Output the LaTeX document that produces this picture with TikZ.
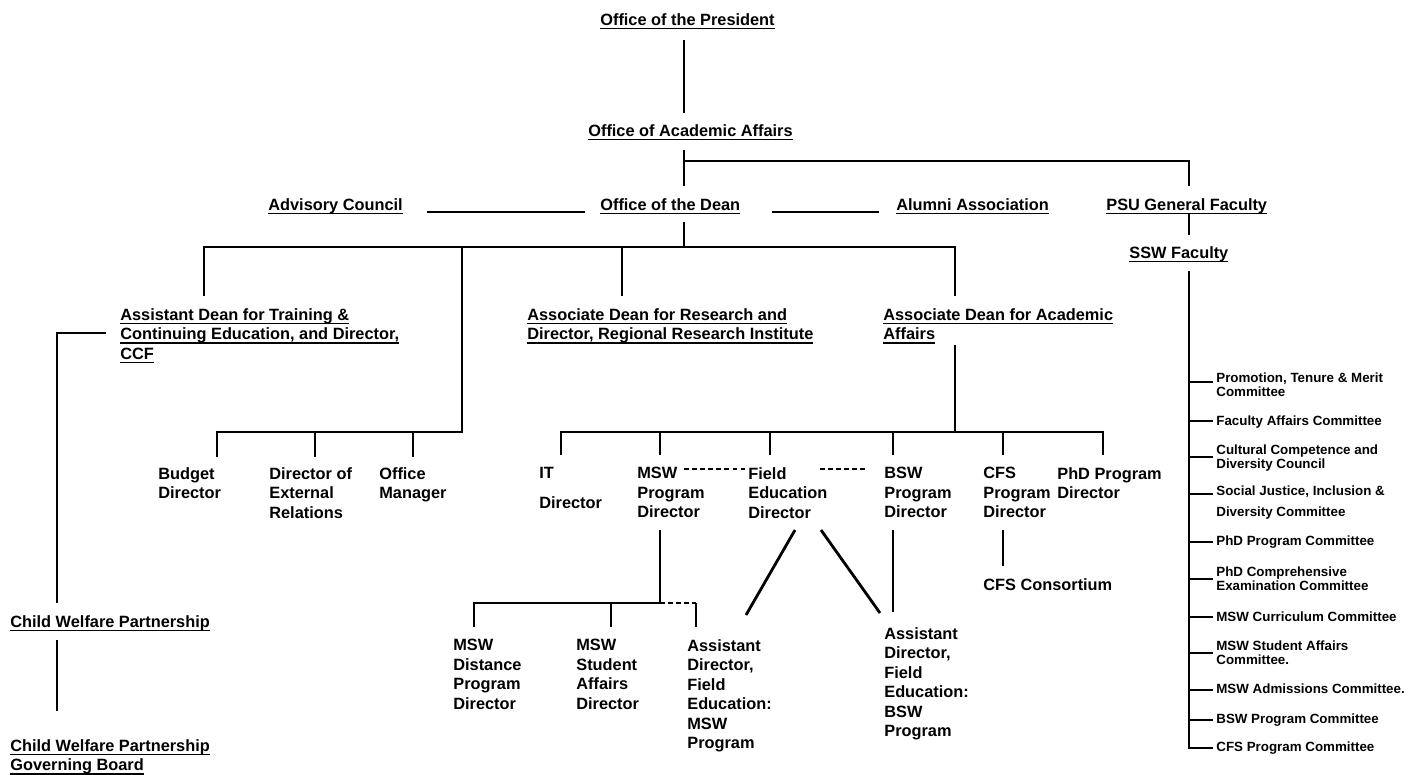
\documentclass[tikz,border=0pt]{standalone}
\usepackage{fontspec}
\setmainfont{Liberation Sans}
\usetikzlibrary{positioning,calc}

\newsavebox\ulbox
\newcommand\uln[1]{\sbox\ulbox{#1}\rlap{\usebox\ulbox}\rule[-2.4pt]{\wd\ulbox}{1pt}}
\newcommand\orgfont{\fontsize{9.3}{11.1}\selectfont\bfseries}
\newcommand\cmtfont{\fontsize{7.6}{8.5}\selectfont\bfseries}

\tikzset{
  unit/.style={font=\orgfont, anchor=north west, inner sep=0pt, align=left},
  cmt/.style={font=\cmtfont, anchor=north west, inner sep=0pt, align=left},
  conn/.style={line width=1.2pt},
  heavy/.style={line width=1.6pt},
  link/.style={line width=1.2pt, dash pattern=on 2.8pt off 1.8pt}
}

\begin{document}
\begin{tikzpicture}[x=0.02cm, y=-0.02cm]
  \fill[white] (0,0) rectangle (1416,772);

  % top of the chart
  \node[unit] (pres) at (600,13) {\uln{Office of the President}};
  \node[unit] (acad) at (588,124) {\uln{Office of Academic Affairs}};
  \node[unit] (advis) at (268,198) {\uln{Advisory Council}};
  \node[unit] (dean) at (600,198) {\uln{Office of the Dean}};
  \node[unit] (alum) at (896,198) {\uln{Alumni Association}};
  \node[unit] (psu) at (1106,198) {\uln{PSU General Faculty}};
  \node[unit] (ssw) at (1129,246) {\uln{SSW Faculty}};

  % deans
  \node[unit] (train) at (120,308) {\uln{Assistant Dean for Training \&}\\
    \uln{Continuing Education, and Director,}\\\uln{CCF}};
  \node[unit] (research) at (527,308) {\uln{Associate Dean for Research and}\\
    \uln{Director, Regional Research Institute}};
  \node[unit] (acaddean) at (883,308) {\uln{Associate Dean for Academic}\\
    \uln{Affairs}};

  % child welfare partnership
  \node[unit] (cwp) at (10,615) {\uln{Child Welfare Partnership}};
  \node[unit] (board) at (10,739) {\uln{Child Welfare Partnership}\\
    \uln{Governing Board}};

  % staff row
  \node[unit] (budget) at (158,467) {Budget\\Director};
  \node[unit] (extrel) at (269,467) {Director of\\External\\Relations};
  \node[unit] (office) at (379,467) {Office\\Manager};
  \node[unit] (itdir) at (539,467) {IT\\[5.9pt]Director};
  \node[unit] (mswdir) at (637,467) {MSW\\Program\\Director};
  \node[unit] (fielddir) at (748,467) {Field\\Education\\Director};
  \node[unit] (bswdir) at (884,467) {BSW\\Program\\Director};
  \node[unit] (cfsdir) at (983,467) {CFS\\Program\\Director};
  \node[unit] (phddir) at (1057,467) {PhD Program\\Director};
  \node[unit] (cfscons) at (983,578) {CFS Consortium};

  % msw and field education row
  \node[unit] (mswdist) at (453,639) {MSW\\Distance\\Program\\Director};
  \node[unit] (mswsa) at (576,639) {MSW\\Student\\Affairs\\Director};
  \node[unit] (adfmsw) at (687,639) {Assistant\\Director,\\Field\\Education:\\MSW\\Program};
  \node[unit] (adfbsw) at (884,627) {Assistant\\Director,\\Field\\Education:\\BSW\\Program};

  % president to academic affairs
  \draw[conn] ($(pres.north west)+(84,27)$) -- ($(acad.north west)+(96,-11)$);
  % academic affairs to dean and general faculty
  \draw[conn] ($(acad.north west)+(96,26)$) -- ($(dean.north west)+(84,-12)$);
  \draw[conn] ($(acad.north west)+(96,37)$) -| ($(psu.north west)+(83,-12)$);
  % council and association
  \draw[conn] ($(advis.north west)+(159,14)$) -- ($(dean.north west)+(-15,14)$);
  \draw[conn] ($(dean.north west)+(172,14)$) -- ($(alum.north west)+(-17,14)$);
  % general faculty to ssw faculty
  \draw[conn] ($(psu.north west)+(83,15)$) -- ($(ssw.north west)+(60,-11)$);

  % dean to the deans
  \draw[conn] ($(dean.north west)+(84,24)$) -- ($(dean.north west)+(84,49)$);
  \draw[conn] ($(train.north west)+(84,-12)$) |- ($(acaddean.north west)+(72,-61)$)
    -- ($(acaddean.north west)+(72,-12)$);
  \draw[conn] ($(research.north west)+(95,-61)$) -- ($(research.north west)+(95,-12)$);

  % dean to staff
  \draw[conn] ($(office.north west)+(83,-220)$) |- ($(budget.north west)+(59,-35)$) -- ++(0,25);
  \foreach \n/\dx in {extrel/46, office/34}
    \draw[heavy] ($(\n.north west)+(\dx,-35)$) -- ++(0,25);

  % associate dean to program directors
  \draw[heavy] ($(acaddean.north west)+(72,37)$) -- ($(acaddean.north west)+(72,124)$);
  \draw[conn] ($(itdir.north west)+(22,-12)$) |- ($(phddir.north west)+(46,-35)$) -- ++(0,23);
  \foreach \n/\dx in {mswdir/23, fielddir/22, bswdir/9, cfsdir/20}
    \draw[heavy] ($(\n.north west)+(\dx,-35)$) -- ++(0,23);

  % dotted links between directors
  \draw[link] ($(mswdir.north west)+(47,2)$) -- ($(fielddir.north west)+(-3,2)$);
  \draw[link] ($(fielddir.north west)+(72,2)$) -- ($(bswdir.north west)+(-18,2)$);

  % msw program
  \draw[heavy] ($(mswdir.north west)+(23,63)$) -- ($(mswdir.north west)+(23,136)$);
  \draw[conn] ($(mswdist.north west)+(21,-12)$) |- ($(mswdir.north west)+(23,136)$);
  \draw[conn] ($(mswsa.north west)+(35,-36)$) -- ++(0,24);
  \draw[link] ($(mswdir.north west)+(23,136)$) -- ($(adfmsw.north west)+(9,-36)$);
  \draw[heavy] ($(adfmsw.north west)+(9,-36)$) -- ++(0,24);

  % field education
  \draw[heavy] ($(fielddir.north west)+(47,63)$) -- ($(adfmsw.north west)+(59,-24)$);
  \draw[heavy] ($(fielddir.north west)+(73,63)$) -- ($(adfbsw.north west)+(-4,-14)$);
  \draw[heavy] ($(bswdir.north west)+(9,63)$) -- ($(adfbsw.north west)+(9,-15)$);
  \draw[heavy] ($(cfsdir.north west)+(20,63)$) -- ($(cfscons.north west)+(20,-12)$);

  % child welfare partnership
  \draw[conn] ($(train.north west)+(-14,25)$) -| ($(cwp.north west)+(47,-12)$);
  \draw[conn] ($(cwp.north west)+(47,25)$) -- ($(board.north west)+(47,-28)$);

  % committees
  \foreach \n/\yt/\dy/\txt in {
      cm1/372/10/{Promotion, Tenure \& Merit\\Committee},
      cm2/415/6/{Faculty Affairs Committee},
      cm3/444/13/{Cultural Competence and\\Diversity Council},
      cm4/485/9/{Social Justice, Inclusion \&\\[3.8pt]Diversity Committee},
      cm5/535/7/{PhD Program Committee},
      cm6/566/13/{PhD Comprehensive\\Examination Committee},
      cm7/611/6/{MSW Curriculum Committee},
      cm8/640/13/{MSW Student Affairs\\Committee.},
      cm9/683/7/{MSW Admissions Committee.},
      cm10/713/7/{BSW Program Committee},
      cm11/741/7/{CFS Program Committee}} {
    \node[cmt] (\n) at (1216,\yt) {\txt};
    \draw[conn] ($(\n.north west)+(-27,\dy)$) -- ++(24,0);
  }
  \draw[conn] ($(ssw.north west)+(60,25)$) |- ($(cm11.north west)+(-3,7)$);
\end{tikzpicture}
\end{document}
